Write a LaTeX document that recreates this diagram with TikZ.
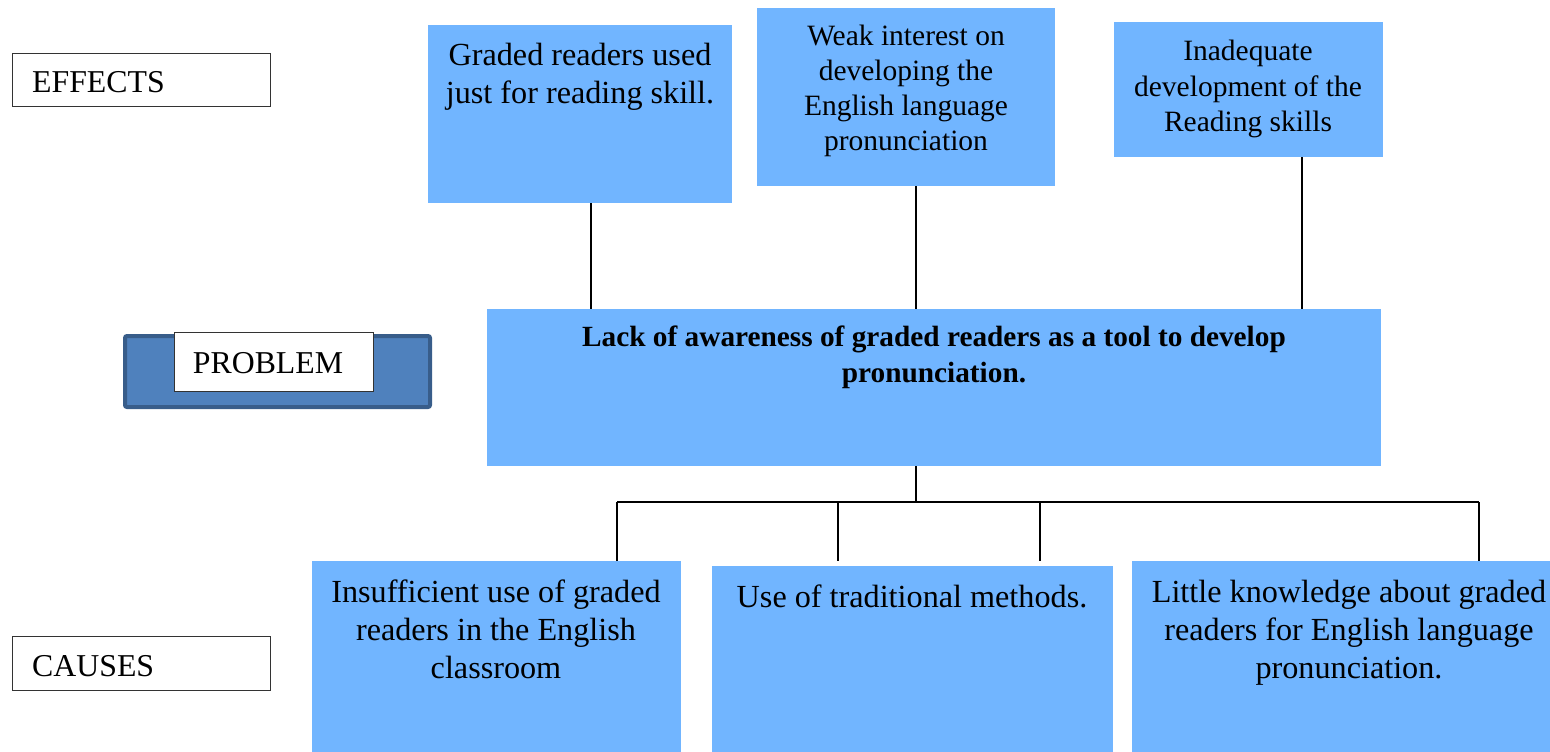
\documentclass[tikz,border=0pt]{standalone}
\usepackage{fontspec}
\setmainfont{Liberation Serif}
\definecolor{boxblue}{RGB}{113,181,255}
\definecolor{probfill}{RGB}{79,129,189}
\definecolor{probdraw}{RGB}{56,93,138}
\begin{document}
\begin{tikzpicture}[x=1pt,y=-1pt,
  bluebox/.style={fill=boxblue,draw=none,anchor=north west,inner sep=0pt},
  tag/.style={draw=black!80,line width=1pt,fill=white,anchor=north west,inner sep=0pt},
  labtxt/.style={inner sep=0pt,font=\fontsize{31.8}{36}\selectfont},
  txt/.style={anchor=north,inner sep=0pt,align=center,font=\fontsize{29.5}{35}\selectfont},
  bigtxt/.style={anchor=north,inner sep=0pt,align=center,font=\fontsize{32.2}{38}\selectfont},
  conn/.style={draw=black,line width=1.5pt}]
\useasboundingbox (0,0) rectangle (1550,752);

% side labels
\node[tag,minimum width=258pt,minimum height=53pt] (eff) at (12,53) {};
\node[labtxt,anchor=west] (efft) at (32,82) {EFFECTS};
\node[tag,minimum width=258pt,minimum height=54pt] (cau) at (12,636) {};
\node[labtxt,anchor=west] (caut) at (32,666) {CAUSES};
\node[fill=probfill,draw=probdraw,line width=4pt,rounded corners=2pt,anchor=north west,minimum width=305pt,minimum height=71pt,inner sep=0pt] (prob) at (123,334) {};
\node[tag,minimum width=199pt,minimum height=59pt] (probw) at (174,332) {};
\node[labtxt] (probt) at (268,363) {PROBLEM};

% effects
\node[bluebox,minimum width=304pt,minimum height=178pt] (e1) at (428,25) {};
\node[bigtxt] (e1t) at (580,43) {Graded readers used\\just for reading skill.};
\node[bluebox,minimum width=298pt,minimum height=178pt] (e2) at (757,8) {};
\node[txt] (e2t) at (906,25) {Weak interest on\\developing the\\English language\\pronunciation};
\node[bluebox,minimum width=269pt,minimum height=135pt] (e3) at (1114,22) {};
\node[txt,font=\fontsize{29.5}{35.5}\selectfont] (e3t) at (1248,40) {Inadequate\\development of the\\Reading skills};

% problem
\node[bluebox,minimum width=894pt,minimum height=157pt] (p) at (487,309) {};
\node[txt,font=\bfseries\fontsize{29.3}{36}\selectfont] (pt) at (934,326) {Lack of awareness of graded readers as a tool to develop\\pronunciation.};

% causes
\node[bluebox,minimum width=369pt,minimum height=191pt] (c1) at (312,561) {};
\node[bigtxt] (c1t) at (496,580) {Insufficient use of graded\\readers in the English\\classroom};
\node[bluebox,minimum width=401pt,minimum height=186pt] (c2) at (712,566) {};
\node[bigtxt] (c2t) at (912,585) {Use of traditional methods.};
\node[bluebox,minimum width=418pt,minimum height=191pt] (c3) at (1132,561) {};
\node[bigtxt] (c3t) at (1349,580) {Little knowledge about graded\\readers for English language\\pronunciation.};

% connectors effects -> problem
\coordinate (x1) at (591,0);
\coordinate (x2) at (916,0);
\coordinate (x3) at (1302,0);
\draw[conn] (x1 |- e1.south) -- (x1 |- p.north);
\draw[conn] (x2 |- e2.south) -- (x2 |- p.north);
\draw[conn] (x3 |- e3.south) -- (x3 |- p.north);

% problem -> causes
\coordinate (bus) at (916,502);
\coordinate (k1) at (617,502);
\coordinate (k2) at (838,502);
\coordinate (k3) at (1040,502);
\coordinate (k4) at (1479,502);
\draw[conn] (bus |- p.south) -- (bus);
\draw[conn] (k1) -- (k4);
\draw[conn] (k1) -- (k1 |- c1.north);
\draw[conn] (k2) -- (k2 |- c1.north);
\draw[conn] (k3) -- (k3 |- c1.north);
\draw[conn] (k4) -- (k4 |- c1.north);
\end{tikzpicture}
\end{document}
